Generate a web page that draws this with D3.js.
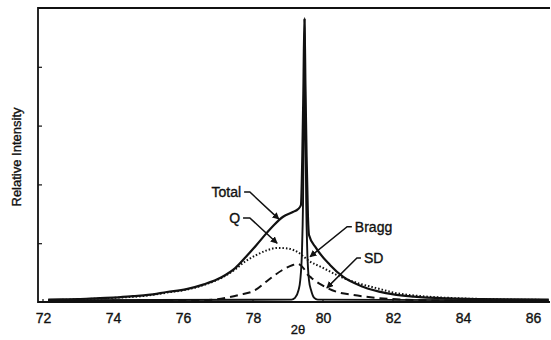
<!DOCTYPE html>
<html>
<head>
<meta charset="utf-8">
<script src="https://cdn.jsdelivr.net/npm/d3@7"></script>
<style>
  body { margin: 0; background: #fff; }
  text { font-family: Arial, "Liberation Sans", Helvetica, sans-serif; fill: #111; stroke: #111; stroke-width: 0.35px; }
</style>
</head>
<body>
<div id="chart"></div>
<script>
// values: [2theta, relative intensity]
var totalCurve = [
  [72.15,0.04],[72.5,0.045],[73.0,0.05],[73.63,0.068],[74.0,0.075],[74.57,0.10],[75.0,0.12],
  [75.54,0.17],[76.1,0.22],[76.6,0.30],[77.1,0.42],[77.5,0.58],[77.8,0.77],[78.1,0.97],
  [78.4,1.18],[78.6,1.31],[78.86,1.45],[79.14,1.53],[79.29,1.58],[79.37,1.65],[79.41,2.5],
  [79.44,3.6],[79.47,4.83],[79.50,3.6],[79.53,2.5],[79.57,1.45],[79.6,1.14],[79.8,0.92],
  [80.2,0.63],[80.57,0.43],[81.14,0.26],[81.8,0.15],[82.6,0.09],[83.6,0.06],[84.5,0.05],
  [85.5,0.045],[86.45,0.04]
];

var qCurve = [
  [72.15,0.03],[73.0,0.045],[74.0,0.07],[75.0,0.11],[75.54,0.16],[76.1,0.21],[76.6,0.29],
  [77.1,0.41],[77.5,0.56],[77.8,0.70],[78.1,0.80],[78.4,0.88],[78.7,0.92],[79.0,0.91],
  [79.3,0.84],[79.6,0.70],[80.0,0.58],[80.5,0.43],[81.0,0.32],[81.5,0.24],[82.1,0.15],
  [82.8,0.10],[83.6,0.07],[84.6,0.05],[86.45,0.035]
];

var sdCurve = [
  [72.15,0.02],[75.0,0.02],[76.6,0.03],[77.3,0.08],[77.6,0.12],[78.06,0.20],[78.43,0.37],
  [78.83,0.54],[79.14,0.63],[79.26,0.65],[79.45,0.57],[79.54,0.48],[79.67,0.41],[79.96,0.29],
  [80.4,0.17],[80.86,0.12],[81.54,0.07],[82.3,0.04],[83.5,0.025],[86.45,0.02]
];

var braggCurve = [
  [72.15,0.03],[79.1,0.04],[79.2,0.07],[79.3,0.2],[79.35,0.37],[79.4,0.88],[79.43,1.7],
  [79.46,3.5],[79.475,4.8],[79.49,3.5],[79.52,1.7],[79.55,0.88],[79.6,0.37],[79.66,0.2],
  [79.75,0.07],[79.85,0.04],[86.45,0.03]
];

var xTicks = [72, 74, 76, 78, 80, 82, 84, 86];
var yTicks = [1, 2, 3, 4];

// label, text anchor point, elbow, arrow tip (data units)
var notes = [
  { label: "Total", side: "left",  text: [77.66, 1.87], elbow: [77.91, 1.87], tip: [78.74, 1.41] },
  { label: "Q",     side: "left",  text: [77.63, 1.43], elbow: [77.91, 1.43], tip: [78.69, 1.00] },
  { label: "Bragg", side: "right", text: [80.91, 1.28], elbow: [80.69, 1.28], tip: [79.63, 0.77] },
  { label: "SD",    side: "right", text: [81.17, 0.75], elbow: [80.97, 0.75], tip: [80.11, 0.24] }
];

function draw() {
  var w = 551, h = 340;
  var padL = 38, padR = 550, padT = 8, padB = 302;

  var svg = d3.select("#chart").append("svg")
    .attr("width", w).attr("height", h);

  var xScale = d3.scaleLinear().domain([71.857, 86.486]).range([padL, padR]);
  var yScale = d3.scaleLinear().domain([0, 5]).range([padB, padT]);

  var line = d3.line()
    .x(function(d) { return xScale(d[0]); })
    .y(function(d) { return yScale(d[1]); })
    .curve(d3.curveMonotoneX);

  svg.append("defs").append("marker")
    .attr("id", "arrow")
    .attr("viewBox", "0 0 10 10")
    .attr("refX", 9).attr("refY", 5)
    .attr("markerWidth", 7).attr("markerHeight", 7)
    .attr("markerUnits", "userSpaceOnUse")
    .attr("orient", "auto")
    .append("path")
    .attr("d", "M0,0 L10,5 L0,10 z")
    .attr("fill", "#111");

  // frame: left, top, bottom
  svg.append("path")
    .attr("d", "M" + padR + "," + padT + " H" + padL + " V" + padB + " H" + padR)
    .attr("fill", "none").attr("stroke", "#111").attr("stroke-width", 1.8);

  // x axis ticks and labels
  var xAxis = d3.axisBottom(xScale).tickValues(xTicks).tickSize(0).tickPadding(11);
  var gx = svg.append("g").attr("transform", "translate(0," + padB + ")").call(xAxis);
  gx.select(".domain").remove();
  gx.selectAll("text").style("font-size", "14px").attr("fill", "#111");
  gx.selectAll(".tk").data(xTicks).enter().append("line")
    .attr("x1", function(d) { return xScale(d); }).attr("x2", function(d) { return xScale(d); })
    .attr("y1", 0).attr("y2", -3).attr("stroke", "#111").attr("stroke-width", 1.2);

  // y axis: inward ticks, no labels
  var yAxis = d3.axisRight(yScale).tickValues(yTicks).tickSize(4).tickFormat("");
  var gy = svg.append("g").attr("transform", "translate(" + padL + ",0)").call(yAxis);
  gy.select(".domain").remove();
  gy.selectAll("line").attr("stroke", "#111").attr("stroke-width", 1.2);

  // curves
  svg.append("path").datum(braggCurve).attr("d", line)
    .attr("fill", "none").attr("stroke", "#111").attr("stroke-width", 1.9);
  svg.append("path").datum(sdCurve).attr("d", line)
    .attr("fill", "none").attr("stroke", "#111").attr("stroke-width", 2)
    .attr("stroke-dasharray", "8,5");
  svg.append("path").datum(qCurve).attr("d", line)
    .attr("fill", "none").attr("stroke", "#111").attr("stroke-width", 2)
    .attr("stroke-dasharray", "1.5,2");
  svg.append("path").datum(totalCurve).attr("d", line)
    .attr("fill", "none").attr("stroke", "#111").attr("stroke-width", 2.2);

  // annotations
  notes.forEach(function(n) {
    var sx = xScale(n.text[0]) + (n.side === "left" ? 3 : -3);
    svg.append("path")
      .attr("d", "M" + sx + "," + yScale(n.text[1]) +
                 " L" + xScale(n.elbow[0]) + "," + yScale(n.elbow[1]) +
                 " L" + xScale(n.tip[0]) + "," + yScale(n.tip[1]))
      .attr("fill", "none").attr("stroke", "#111").attr("stroke-width", 1.5)
      .attr("marker-end", "url(#arrow)");
    svg.append("text")
      .attr("x", xScale(n.text[0]))
      .attr("y", yScale(n.text[1]))
      .attr("dy", "0.35em")
      .attr("text-anchor", n.side === "left" ? "end" : "start")
      .style("font-size", "14px")
      .text(n.label);
  });

  // axis titles
  svg.append("text")
    .attr("x", (padL + padR) / 2 + 4).attr("y", 334)
    .attr("text-anchor", "middle")
    .style("font-size", "13px")
    .text("2θ");

  svg.append("text")
    .attr("transform", "translate(21," + 157 + ") rotate(-90)")
    .attr("text-anchor", "middle")
    .style("font-size", "13px")
    .text("Relative Intensity");
}

window.onload = draw;
</script>
</body>
</html>
